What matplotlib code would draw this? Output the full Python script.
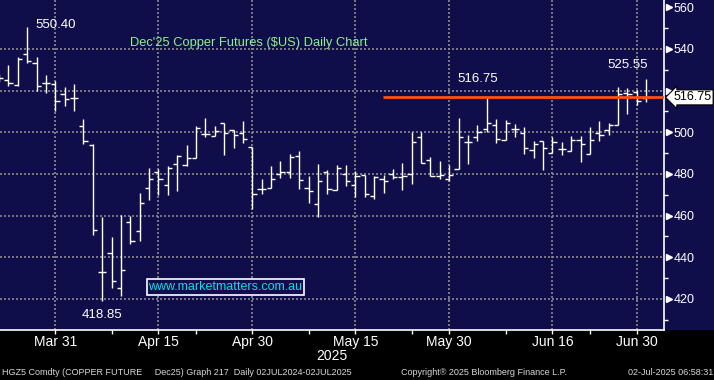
import numpy as np
import pandas as pd
import matplotlib
matplotlib.use("Agg")
import matplotlib.pyplot as plt
from matplotlib.patches import Rectangle

# trading days on the chart (exchange shut on Good Friday, Memorial Day, Juneteenth)
holidays = ["2025-04-18", "2025-05-26", "2025-06-19"]
dates = [d.strftime("%Y-%m-%d") for d in pd.bdate_range("2025-03-21", "2025-07-01")
         if d.strftime("%Y-%m-%d") not in holidays]

opens = [526.5, 525.0, 522.6, 537.6, 533.1, 523.7, 523.2, 518.4, 516.4, 502.9,
         494.0, 433.0, 442.1, 425.5, 456.9, 452.4, 473.2, 480.8, 474.6, 484.8,
         484.2, 487.5, 499.0, 498.2, 504.3, 501.0, 499.5, 493.1, 473.0, 473.5,
         480.2, 480.8, 488.7, 473.5, 465.7, 480.8, 472.1, 480.2, 474.9, 479.5,
         469.5, 477.8, 480.2, 478.5, 480.2, 497.9, 486.8, 479.2, 477.7, 482.6,
         495.3, 497.9, 501.5, 503.5, 496.1, 501.5, 499.8, 491.7, 495.8, 489.9,
         492.2, 490.9, 496.1, 489.4, 499.8, 501.1, 503.6, 518.7, 519.2, 516.7]
highs = [528.0, 532.3, 536.3, 550.4, 536.0, 527.4, 524.7, 521.8, 523.2, 506.5,
         494.3, 459.3, 449.7, 460.1, 459.6, 470.8, 482.7, 482.4, 483.9, 489.3,
         493.9, 503.0, 506.7, 503.0, 504.3, 501.0, 505.4, 493.1, 477.5, 484.0,
         486.3, 489.4, 490.8, 478.9, 484.6, 481.7, 484.1, 484.4, 481.3, 479.5,
         479.0, 479.4, 482.6, 485.5, 500.0, 500.0, 488.2, 486.1, 484.5, 506.8,
         498.7, 503.5, 516.75, 506.5, 506.0, 504.0, 502.4, 495.9, 495.8, 497.7,
         495.4, 498.2, 498.2, 502.6, 505.5, 504.6, 521.6, 521.1, 520.3, 525.55]
lows = [524.0, 522.4, 522.4, 533.1, 519.6, 518.8, 510.4, 512.8, 510.0, 494.6,
        450.5, 418.85, 425.3, 421.6, 446.4, 447.6, 467.3, 470.0, 470.0, 471.6,
        483.9, 487.5, 497.9, 498.2, 489.3, 492.7, 495.0, 463.1, 470.5, 473.5,
        478.1, 478.1, 472.7, 466.2, 459.5, 470.6, 472.1, 474.3, 469.0, 469.0,
        467.9, 471.0, 477.4, 472.1, 475.3, 485.5, 479.0, 477.4, 476.6, 482.6,
        484.8, 495.8, 500.3, 494.7, 496.1, 497.6, 489.4, 487.8, 482.0, 489.9,
        489.1, 490.9, 485.9, 489.4, 495.6, 498.9, 503.6, 508.8, 513.3, 514.6]
closes = [525.9, 523.5, 535.0, 534.4, 522.1, 523.7, 515.1, 515.9, 516.4, 495.8,
          453.1, 433.0, 428.7, 434.1, 448.0, 466.3, 477.5, 477.5, 483.1, 488.7,
          487.5, 501.9, 499.0, 500.8, 499.7, 498.9, 497.0, 470.6, 473.0, 477.8,
          480.8, 488.3, 477.3, 471.7, 476.5, 473.0, 482.9, 476.5, 479.0, 470.6,
          478.7, 476.8, 478.5, 479.0, 495.3, 485.5, 479.0, 479.7, 479.7, 497.6,
          495.3, 500.3, 504.7, 496.6, 504.4, 501.5, 492.4, 494.5, 492.4, 495.4,
          491.9, 496.1, 494.3, 496.3, 498.7, 503.3, 518.5, 518.5, 514.8, 516.75]

major_days = ["2025-03-31", "2025-04-15", "2025-04-30", "2025-05-15",
              "2025-05-30", "2025-06-16", "2025-06-30"]
major_labels = ["Mar 31", "Apr 15", "Apr 30", "May 15", "May 30", "Jun 16", "Jun 30"]
minor_days = ["2025-04-08", "2025-04-22", "2025-05-08", "2025-05-23",
              "2025-06-09", "2025-06-23"]
y_ticks = [420, 440, 460, 480, 500, 520, 540, 560]
y_labels = ["420", "440", "460", "480", "500", "", "540", "560"]  # 520 sits under the price box
y_minor = [410, 430, 450, 470, 490, 510, 530, 550]
grid_levels = [420, 440, 460, 480, 500, 520, 540]
last_price = 516.75

NAVY = "#100e4a"
GRID = "#8c8c8c"
plt.rcParams["font.family"] = ["Liberation Sans", "DejaVu Sans"]

fig = plt.figure(figsize=(7.14, 3.8), dpi=100, facecolor="black")
fig.patches.append(Rectangle((0, 50 / 380), 1, 330 / 380, transform=fig.transFigure,
                             facecolor=NAVY, edgecolor="none", zorder=-1))
ax = fig.add_axes([0, 50 / 380, 664 / 714, 330 / 380])
ax.set_facecolor(NAVY)

x = np.arange(len(dates))
ax.vlines(x, lows, highs, color="white", lw=1.0, zorder=3)
ax.hlines(opens, x - 0.45, x, color="white", lw=1.0, zorder=3)
ax.hlines(closes, x, x + 0.45, color="white", lw=1.0, zorder=3)

major_pos = [dates.index(d) for d in major_days]
minor_pos = [dates.index(d) for d in minor_days]

for lvl in grid_levels:
    ax.axhline(lvl, color=GRID, lw=1.2, ls=(0, (1.2, 1.2)), zorder=1)
for p in major_pos:
    ax.axvline(p, color=GRID, lw=1.2, ls=(0, (1.2, 1.2)), zorder=1)

ax.set_xlim(0.1, 70.9)
ax.set_ylim(405.1, 563.5)

# last price line
ax.hlines(last_price, 40.9, 70.9, color="#ff5010", lw=2, zorder=4)

for s in ["left", "top"]:
    ax.spines[s].set_visible(False)
for s in ["bottom", "right"]:
    ax.spines[s].set_color("white")
    ax.spines[s].set_linewidth(1.2)

ax.yaxis.tick_right()
ax.set_yticks(y_ticks)
ax.set_yticklabels(y_labels)
ax.set_yticks(y_minor, minor=True)
ax.tick_params(axis="y", which="major", length=0, pad=7, labelsize=9,
               labelcolor="white")
ax.tick_params(axis="y", which="minor", length=3, width=1, color="white")
ax.plot(np.full(len(y_ticks), 1.0 + 5 / 664), y_ticks, marker=">", ls="none",
        ms=5, color="white", transform=ax.get_yaxis_transform(), clip_on=False)

ax.set_xticks(major_pos)
ax.set_xticklabels(major_labels)
ax.set_xticks(minor_pos, minor=True)
ax.tick_params(axis="x", which="both", length=3, width=1, color="white")
ax.tick_params(axis="x", which="major", labelsize=10, labelcolor="white", pad=0.5)

# price box on the axis
ax.text(1.0 + 9.5 / 664, last_price, "516.75", transform=ax.get_yaxis_transform(),
        ha="left", va="center", fontsize=9, color="black", clip_on=False, zorder=6,
        bbox=dict(boxstyle="larrow,pad=0.12", fc="white", ec="black", lw=0.8))

# annotations
ax.text(130 / 664, 1 - 43 / 330, "Dec'25 Copper Futures ($US) Daily Chart",
        transform=ax.transAxes, ha="left", va="center", fontsize=9.3, color="#8ef08e")
ax.text(55.5 / 664, 1 - 25 / 330, "550.40", transform=ax.transAxes,
        ha="center", va="center", fontsize=9.5, color="white")
ax.text(477.5 / 664, 1 - 79 / 330, "516.75", transform=ax.transAxes,
        ha="center", va="center", fontsize=9.5, color="white")
ax.text(627.5 / 664, 1 - 65 / 330, "525.55", transform=ax.transAxes,
        ha="center", va="center", fontsize=9.5, color="white")
ax.text(102.5 / 664, 1 - 315 / 330, "418.85", transform=ax.transAxes,
        ha="center", va="center", fontsize=9.5, color="white")
ax.text(225.5 / 664, 1 - 287 / 330, "www.marketmatters.com.au", transform=ax.transAxes,
        ha="center", va="center", fontsize=9, color="#10dcea", zorder=5,
        bbox=dict(boxstyle="square,pad=0.15", fc=NAVY, ec="white", lw=1.2))

fig.text(332 / 714, 1 - 356 / 380, "2025", ha="center", va="center", fontsize=10,
         color="white")
foot = dict(va="center", fontsize=6.5, color="#d8d8d8")
fig.text(2 / 714, 1 - 372.5 / 380,
         "HGZ5 Comdty (COPPER FUTURE     Dec25) Graph 217  Daily 02JUL2024-02JUL2025",
         ha="left", **foot)
fig.text(401 / 714, 1 - 372.5 / 380, "Copyright\u00ae 2025 Bloomberg Finance L.P.",
         ha="left", **foot)
fig.text(713 / 714, 1 - 372.5 / 380, "02-Jul-2025 06:58:31", ha="right", **foot)

fig.savefig("out.png", dpi=100, facecolor="black")
